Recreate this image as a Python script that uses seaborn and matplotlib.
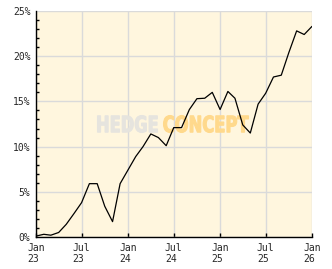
import matplotlib
matplotlib.use("Agg")
import matplotlib.pyplot as plt
from matplotlib.ticker import MultipleLocator, FuncFormatter
from matplotlib.textpath import TextPath
from matplotlib.patches import PathPatch
from matplotlib.font_manager import FontProperties
from matplotlib.transforms import Affine2D
import seaborn as sns
import pandas as pd

months = pd.date_range("2023-01-01", "2026-01-01", freq="MS")
performance = [0.1, 0.3, 0.2, 0.5, 1.4, 2.6, 3.8, 5.9, 5.9, 3.4, 1.7, 5.9,
               7.4, 8.9, 10.0, 11.4, 11.0, 10.1, 12.1, 12.1, 14.1, 15.3, 15.35, 16.0,
               14.1, 16.1, 15.35, 12.4, 11.5, 14.7, 15.9, 17.7, 17.9, 20.4, 22.8, 22.4,
               23.3]
tick_dates = pd.to_datetime(["2023-01-01", "2023-07-01", "2024-01-01", "2024-07-01",
                             "2025-01-01", "2025-07-01", "2026-01-01"])
tick_labels = ["Jan\n23", "Jul\n23", "Jan\n24", "Jul\n24", "Jan\n25", "Jul\n25", "Jan\n26"]
y_ticks = [0, 5, 10, 15, 20, 25]

df = pd.DataFrame({"date": months, "perf": performance})

sns.set_style("white")
plt.rcParams["font.family"] = ["DejaVu Sans Mono", "DejaVu Sans"]

W, H = 332, 269
fig = plt.figure(figsize=(W / 100, H / 100), dpi=100)
fig.patch.set_facecolor("white")
ax = fig.add_axes([36 / W, (H - 237) / H, 276 / W, 226 / H])
ax.set_facecolor("#FFF6DE")

sns.lineplot(data=df, x="date", y="perf", ax=ax, color="black", linewidth=0.9, zorder=3)

ax.set_xlim(months[0], months[-1])
ax.set_ylim(0, 25)
ax.set_xticks(tick_dates)
ax.set_xticklabels(tick_labels, fontsize=7, multialignment="left")
ax.set_yticks(y_ticks)
ax.yaxis.set_major_formatter(FuncFormatter(lambda v, p: f"{int(v)}%"))
ax.yaxis.set_minor_locator(MultipleLocator(1))
for lab in ax.get_yticklabels():
    lab.set_fontsize(7)

ax.grid(True, which="major", color="#DADADA", linewidth=1.0, zorder=0)
ax.set_axisbelow(True)
ax.set_xlabel("")
ax.set_ylabel("")
for s in ["top", "right"]:
    ax.spines[s].set_visible(False)
for s in ["left", "bottom"]:
    ax.spines[s].set_color("black")
    ax.spines[s].set_linewidth(1.0)

ax.tick_params(axis="y", which="major", direction="out", length=3, width=1, color="black", pad=1)
ax.tick_params(axis="y", which="minor", direction="in", length=2.2, width=1, color="black", left=True)
ax.tick_params(axis="x", which="major", direction="in", length=3, width=1, color="black", pad=4, bottom=True)

# condensed watermark drawn as scaled text paths (pixel coordinates)
wm_prop = FontProperties(family="DejaVu Sans", weight="bold")


def watermark(word, x0, x1, top, base, color):
    tp = TextPath((0, 0), word, size=30, prop=wm_prop)
    ext = tp.get_extents()
    sx = (x1 - x0 - 1) / ext.width
    sy = (base - top - 1) / ext.height
    tr = Affine2D().translate(-ext.x0, -ext.y0).scale(sx, sy).translate(x0 + 0.5, H - base + 0.5)
    ax.add_patch(PathPatch(tp, transform=tr, facecolor=color, edgecolor=color,
                           linewidth=0.8, zorder=2, clip_on=False))


watermark("HEDGE", 97, 158, 115, 133, "#E6E4DE")
watermark("CONCEPT", 163, 249, 115, 133, "#FFD98C")

fig.savefig("out.png", dpi=100)
